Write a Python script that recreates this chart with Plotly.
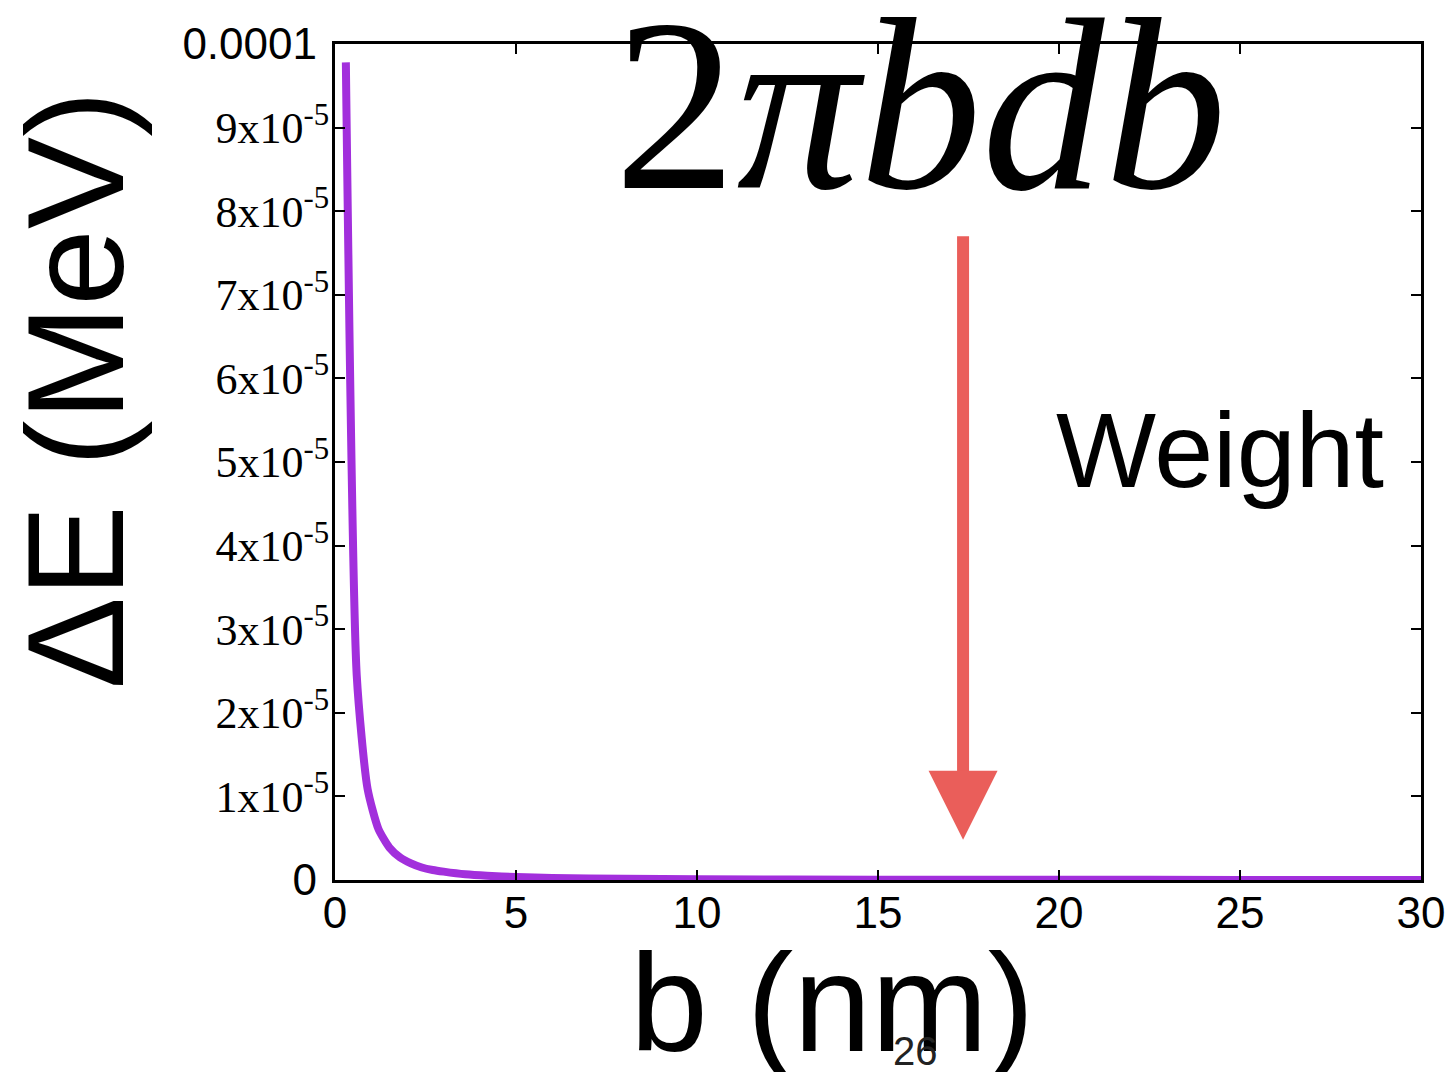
import plotly.graph_objects as go

# Data
b_nm = [0.3, 0.6, 0.9, 1.2, 1.5, 1.8, 2.1, 2.4, 2.7, 3.0, 3.6, 4.2, 5.0, 6.0, 8.0, 10.0, 15.0, 20.0, 25.0, 30.0]
delta_e = [9.78e-5, 2.45e-5, 1.09e-5, 6.1e-6, 3.9e-6, 2.7e-6, 2.0e-6, 1.5e-6, 1.2e-6, 1.0e-6,
           6.8e-7, 5.0e-7, 3.5e-7, 2.4e-7, 1.4e-7, 9e-8, 4e-8, 2e-8, 1.4e-8, 1e-8]

x_tickvals = [0, 5, 10, 15, 20, 25, 30]
x_ticktext = ["0", "5", "10", "15", "20", "25", "30"]
y_tickvals = [0, 1e-5, 2e-5, 3e-5, 4e-5, 5e-5, 6e-5, 7e-5, 8e-5, 9e-5, 1e-4]
SERIF = '<span style="font-family:Liberation Serif">{}x10<sup>-5</sup></span>'
y_ticktext = ["0&nbsp;"] + [SERIF.format(i) for i in range(1, 10)] + ["0.0001&nbsp;"]

arrow_x = 17.35
arrow_tip_y = 4.8e-6

fig = go.Figure()
fig.add_trace(go.Scatter(
    x=b_nm, y=delta_e, mode="lines",
    line=dict(color="#a22fdc", width=8, shape="spline", smoothing=0.6),
    showlegend=False, cliponaxis=False,
))

fig.update_layout(
    width=1449, height=1072,
    margin=dict(l=335, r=28, t=44, b=192, autoexpand=False),
    paper_bgcolor="white", plot_bgcolor="white",
    font=dict(family="Liberation Sans", color="black"),
    xaxis=dict(
        range=[0, 30], tickvals=x_tickvals, ticktext=x_ticktext,
        ticks="inside", ticklen=10, tickwidth=2, tickcolor="black",
        showline=True, linecolor="black", linewidth=3, mirror="ticks",
        showgrid=False, zeroline=False, ticklabelstandoff=-8,
        automargin=False, ticklabeloverflow="allow",
        tickfont=dict(size=44, family="Liberation Sans", color="black"),
    ),
    yaxis=dict(
        range=[0, 1e-4], tickvals=y_tickvals, ticktext=y_ticktext,
        ticks="inside", ticklen=10, tickwidth=2, tickcolor="black",
        showline=True, linecolor="black", linewidth=3, mirror="ticks",
        showgrid=False, zeroline=False, ticklabelstandoff=-6,
        automargin=False, ticklabeloverflow="allow",
        tickfont=dict(size=44, family="Liberation Sans", color="black"),
    ),
)

annotations = [
    dict(text="ΔE (MeV)", xref="paper", yref="paper", x=-0.2394, y=0.586,
         xanchor="center", yanchor="middle", textangle=-90, showarrow=False,
         font=dict(size=138, family="Liberation Sans", color="black")),
    dict(text="b (nm)", xref="paper", yref="paper", x=0.4576, y=-0.146,
         xanchor="center", yanchor="middle", showarrow=False,
         font=dict(size=140, family="Liberation Sans", color="black")),
    dict(text="26", xref="paper", yref="paper", x=0.5341, y=-0.205,
         xanchor="center", yanchor="middle", showarrow=False,
         font=dict(size=40, family="Liberation Sans", color="#222")),
    dict(text="2<i>πbdb</i>", xref="paper", yref="paper", x=0.5387, y=0.927,
         xanchor="center", yanchor="middle", showarrow=False,
         font=dict(size=245, family="Liberation Serif", color="black")),
    dict(text="Weight", xref="paper", yref="paper", x=0.815, y=0.514,
         xanchor="center", yanchor="middle", showarrow=False,
         font=dict(size=106, family="Liberation Sans", color="black")),
    dict(text="", x=arrow_x, y=arrow_tip_y, xref="x", yref="y",
         ax=0, ay=-605, axref="pixel", ayref="pixel",
         showarrow=True, arrowhead=2, arrowsize=1.15, arrowwidth=12,
         arrowcolor="#ea5e5a"),
]
fig.update_layout(annotations=annotations)

fig.write_html("out.html")
